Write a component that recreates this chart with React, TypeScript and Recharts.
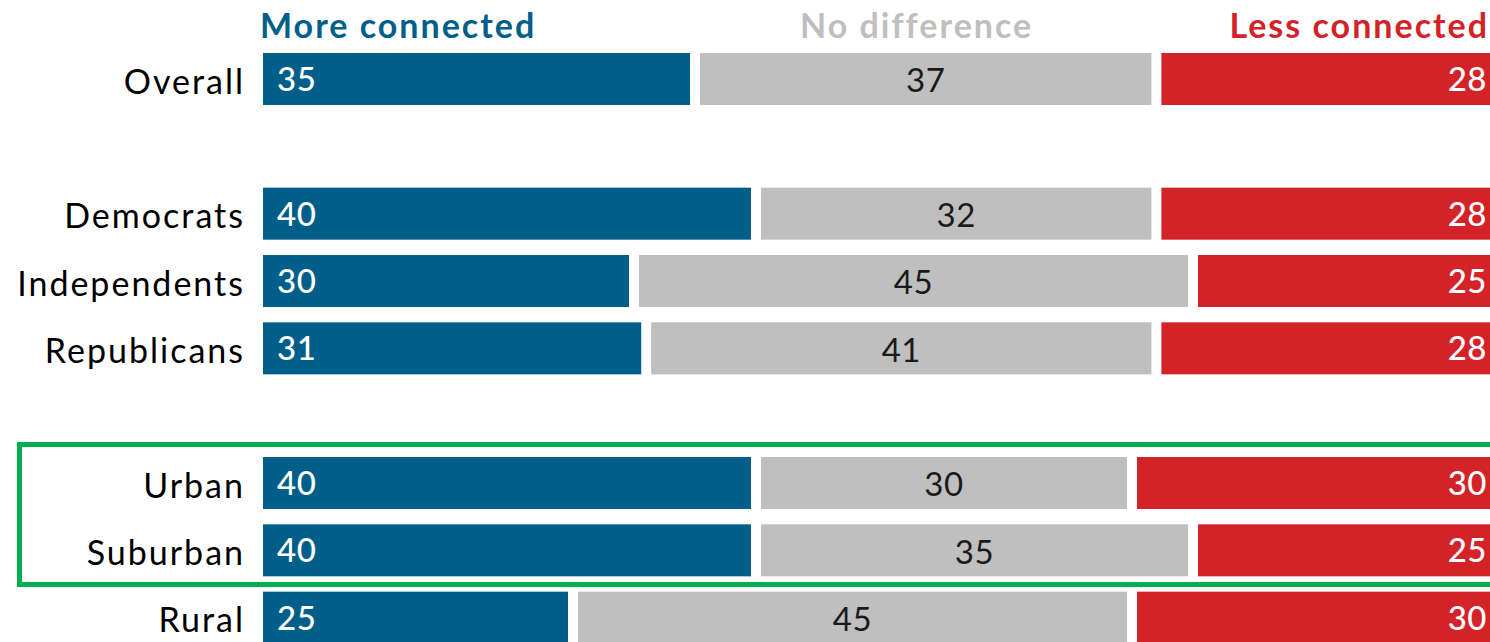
import React from "react";
import { BarChart, Bar, XAxis, YAxis, LabelList } from "recharts";

const categories = ["Overall", "", "Democrats", "Independents", "Republicans", "", "Urban", "Suburban", "Rural"];
const moreConnected = [35, null, 40, 30, 31, null, 40, 40, 25];
const noDifference = [37, null, 32, 45, 41, null, 30, 35, 45];
const lessConnected = [28, null, 28, 25, 28, null, 30, 25, 30];

const seriesNames = ["More connected", "No difference", "Less connected"];

const BLUE = "#005F8A";
const GRAY = "#BFBFBF";
const RED = "#D32228";
const GAP = 10;
const FONT = "Lato, 'Noto Sans', sans-serif";

const data = categories.map((c, i) => ({
  key: c || `gap${i}`,
  label: c,
  more: moreConnected[i],
  none: noDifference[i],
  less: lessConnected[i],
}));

const shiftedShape = (fill: string, idx: number) => (props: any) => {
  const { x, y, width, height } = props;
  if (!width || width <= 0) return null;
  return <rect x={x + idx * GAP} y={y} width={width} height={height} fill={fill} />;
};

const makeLabel = (idx: number, align: "start" | "middle" | "end", color: string, weight: number, dy: string) => (props: any) => {
  const { x, y, width, height, value } = props;
  if (value == null) return null;
  const bx = x + idx * GAP;
  let tx = bx + 14;
  if (align === "middle") tx = bx + width / 2;
  if (align === "end") tx = bx + width - 16;
  return (
    <text
      x={tx}
      y={y + height / 2}
      dy={dy}
      textAnchor={align}
      fill={color}
      fontFamily={FONT}
      fontSize={33}
      fontWeight={weight}
      letterSpacing={0.5}
    >
      {value}
    </text>
  );
};

const CatTick = (props: any) => {
  const { x, y, payload } = props;
  const d = data.find((r) => r.key === payload.value);
  return (
    <text x={x + 2} y={y} dy="0.44em" textAnchor="end" fill="#000" fontFamily={FONT} fontSize={34} letterSpacing={2}>
      {d ? d.label : ""}
    </text>
  );
};

const headerStyle = {
  position: "absolute" as const,
  top: 4,
  fontFamily: FONT,
  fontSize: 34,
  fontWeight: 700,
  letterSpacing: 2,
  whiteSpace: "nowrap" as const,
};

export default function App() {
  return (
    <div
      style={{
        position: "fixed",
        left: 0,
        top: 0,
        width: 1490,
        height: 642,
        overflow: "hidden",
        background: "#fff",
      }}
    >
      <div style={{ ...headerStyle, left: 260, color: BLUE }}>{seriesNames[0]}</div>
      <div style={{ ...headerStyle, left: 800, color: GRAY }}>{seriesNames[1]}</div>
      <div style={{ ...headerStyle, right: 1, color: RED }}>{seriesNames[2]}</div>
      <div style={{ position: "absolute", left: 0, top: 0 }}>
        <BarChart
          width={1520}
          height={700}
          data={data}
          layout="vertical"
          margin={{ top: 45, right: 37, bottom: 49, left: 0 }}
          barSize={52}
        >
          <XAxis type="number" hide domain={[0, 100]} />
          <YAxis
            type="category"
            dataKey="key"
            width={263}
            axisLine={false}
            tickLine={false}
            tickSize={0}
            tickMargin={20}
            tick={<CatTick />}
            interval={0}
          />
          <Bar dataKey="more" stackId="a" fill={BLUE} isAnimationActive={false} shape={shiftedShape(BLUE, 0)}>
            <LabelList dataKey="more" content={makeLabel(0, "start", "#fff", 500, "0.36em")} />
          </Bar>
          <Bar dataKey="none" stackId="a" fill={GRAY} isAnimationActive={false} shape={shiftedShape(GRAY, 1)}>
            <LabelList dataKey="none" content={makeLabel(1, "middle", "#1a1a1a", 400, "0.4em")} />
          </Bar>
          <Bar dataKey="less" stackId="a" fill={RED} isAnimationActive={false} shape={shiftedShape(RED, 2)}>
            <LabelList dataKey="less" content={makeLabel(2, "end", "#fff", 500, "0.36em")} />
          </Bar>
        </BarChart>
      </div>
      <div
        style={{
          position: "absolute",
          left: 17,
          top: 442,
          width: 1520,
          height: 135,
          border: "5px solid #00B050",
          pointerEvents: "none",
        }}
      />
    </div>
  );
}
